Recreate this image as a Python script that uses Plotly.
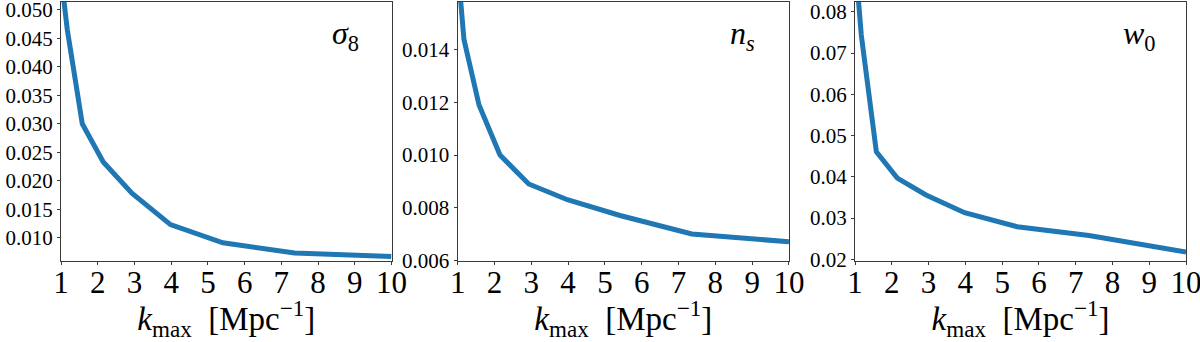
import plotly.graph_objects as go
from plotly.subplots import make_subplots

# k_max values where the curves bend
k_max = [1.0, 1.17, 1.58, 2.15, 2.93, 3.98, 5.41, 7.36, 10.0]

# forecast errors
sigma8_err = [0.056, 0.0466, 0.0300, 0.0233, 0.0178, 0.0123, 0.0091, 0.0073, 0.0067]
ns_err = [0.0172, 0.0144, 0.0119, 0.0100, 0.0089, 0.0083, 0.0077, 0.0070, 0.0067]
w0_err = [0.093, 0.0744, 0.0461, 0.0397, 0.0356, 0.0313, 0.0279, 0.0258, 0.0218]

labels = ["<i>σ</i><sub>8</sub>", "<i>n</i><sub><i>s</i></sub>", "<i>w</i><sub>0</sub>"]

x_ticks = [1, 2, 3, 4, 5, 6, 7, 8, 9, 10]
sigma8_ticks = [0.010, 0.015, 0.020, 0.025, 0.030, 0.035, 0.040, 0.045, 0.050]
ns_ticks = [0.006, 0.008, 0.010, 0.012, 0.014]
w0_ticks = [0.02, 0.03, 0.04, 0.05, 0.06, 0.07, 0.08]

y_ranges = [[0.0059, 0.0514], [0.00597, 0.01582], [0.0196, 0.0824]]
y_formats = [".3f", ".3f", ".2f"]
domains = [[0.0, 0.2938], [0.3526, 0.6471], [0.7058, 1.0]]

FONT = "Liberation Serif, Times New Roman, serif"
BLUE = "#1f77b4"
FRAME = "#3a3a3a"

fig = make_subplots(rows=1, cols=3)

series = [sigma8_err, ns_err, w0_err]
ticks = [sigma8_ticks, ns_ticks, w0_ticks]

for i, ys in enumerate(series):
    col = i + 1
    fig.add_trace(
        go.Scatter(
            x=k_max,
            y=ys,
            mode="lines",
            line=dict(color=BLUE, width=5),
            showlegend=False,
        ),
        row=1,
        col=col,
    )
    fig.update_xaxes(
        domain=domains[i],
        range=[1, 10],
        tickvals=x_ticks,
        ticks="outside",
        ticklen=3,
        tickcolor=FRAME,
        tickfont=dict(family=FONT, size=31, color="black"),
        ticklabelstandoff=-9,
        ticklabeloverflow="allow",
        showline=True,
        mirror=True,
        linecolor=FRAME,
        linewidth=1.3,
        showgrid=False,
        zeroline=False,
        automargin=False,
        title=dict(
            text="<i>k</i><sub>max</sub>  [Mpc<sup>−1</sup>]",
            font=dict(family=FONT, size=33, color="black"),
            standoff=12,
        ),
        row=1,
        col=col,
    )
    fig.update_yaxes(
        range=y_ranges[i],
        tickvals=ticks[i],
        tickformat=y_formats[i],
        ticks="outside",
        ticklen=3,
        tickcolor=FRAME,
        tickfont=dict(family=FONT, size=21, color="black"),
        ticklabeloverflow="allow",
        showline=True,
        mirror=True,
        linecolor=FRAME,
        linewidth=1.3,
        showgrid=False,
        zeroline=False,
        automargin=False,
        row=1,
        col=col,
    )
    xref = "x domain" if i == 0 else f"x{col} domain"
    yref = "y domain" if i == 0 else f"y{col} domain"
    fig.add_annotation(
        text=labels[i],
        xref=xref,
        yref=yref,
        x=0.86,
        y=0.87,
        xanchor="center",
        yanchor="middle",
        showarrow=False,
        font=dict(family=FONT, size=32, color="black"),
    )

fig.update_layout(
    width=1200,
    height=342,
    margin=dict(l=61, r=14, t=2, b=81),
    font=dict(family=FONT),
    plot_bgcolor="white",
    paper_bgcolor="white",
)

# the page's default body margin would shift the figure
fig.write_html(
    "out.html",
    config={"displayModeBar": False},
    post_script="document.body.style.margin = '0px';",
)
